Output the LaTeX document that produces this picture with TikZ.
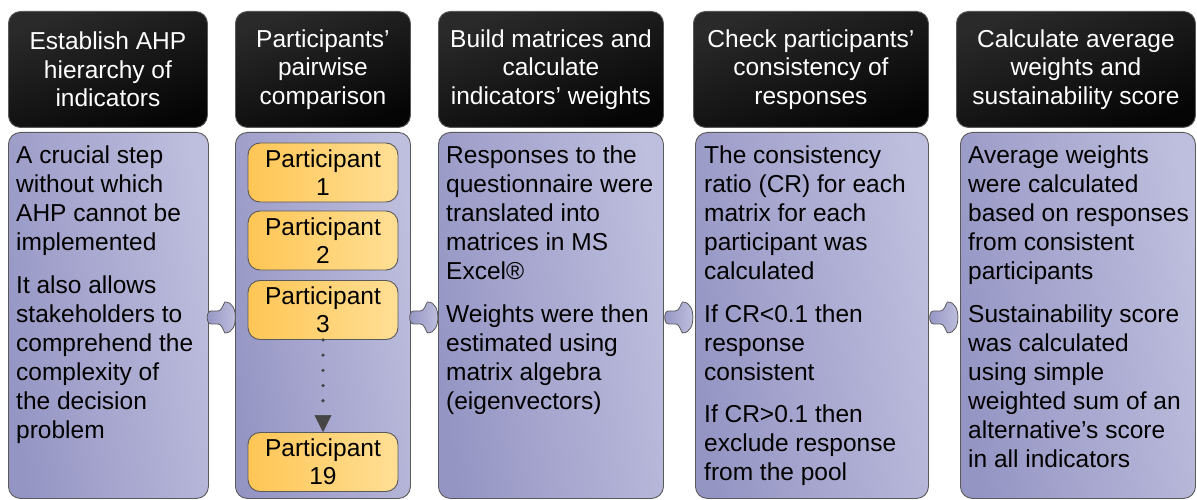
\documentclass[tikz,border=0pt]{standalone}
\usepackage{fontspec}
\setmainfont{Liberation Sans}
\usetikzlibrary{arrows.meta,calc}
\definecolor{bord}{HTML}{5A5A5A}
\definecolor{hdrA}{HTML}{2A2A2A}
\definecolor{hdrB}{HTML}{050505}
\definecolor{lavA}{HTML}{9595C4}
\definecolor{lavB}{HTML}{BEBEDE}
\definecolor{orgA}{HTML}{FFC655}
\definecolor{orgB}{HTML}{FFDF95}
\definecolor{dotc}{HTML}{454545}
\newcommand\firststrut{\rule{0pt}{18pt}}
\newcommand\flowarrow[2]{%
  \begin{scope}[shift={($(#1.east)!0.5!(#2.west)+(-1,2)$)}]
    \draw[connshape] (-10,-6.5) -- (-3,-6.5) .. controls (1,-6.5) and (2,-13) .. (4,-15.5)
      .. controls (12,-15.5) and (14.5,-7) .. (14.5,0) .. controls (14.5,7) and (12,15.5) .. (4,15.5)
      .. controls (2,13) and (1,6.5) .. (-3,6.5) -- (-10,6.5)
      .. controls (-15,6.5) and (-15,-6.5) .. (-10,-6.5) -- cycle;
  \end{scope}}
\begin{document}
\begin{tikzpicture}[x=1pt,y=-1pt,
  hdr/.style={draw=bord, line width=0.9pt, rounded corners=12pt, top color=hdrA, bottom color=hdrB,
    shading angle=20, text=white, align=center, inner sep=0pt,
    font=\fontsize{24.5}{28.5}\selectfont},
  body/.style={draw=bord, line width=0.9pt, rounded corners=12pt, left color=lavA, right color=lavB,
    shading angle=100, inner sep=0pt},
  btxt/.style={anchor=north west, align=left, inner sep=0pt, text=black,
    font=\fontsize{24.5}{29}\selectfont},
  part/.style={draw=bord, line width=0.9pt, rounded corners=12pt, left color=orgA, right color=orgB,
    minimum width=150pt, minimum height=59pt, inner sep=0pt, align=center,
    font=\fontsize{24.5}{28}\selectfont},
  connshape/.style={draw=bord, line width=0.8pt, left color=lavA, right color=lavB},
  dotline/.style={draw=dotc, line width=3.6pt, dash pattern=on 0pt off 15.2pt, line cap=round,
    -{Triangle[length=17pt,width=17pt,fill=dotc,line width=0.5pt]}}]
\useasboundingbox (0,0) rectangle (1197,500);

% headers
\node[hdr, anchor=north west, minimum width=199pt, minimum height=116pt] (h1) at (8,11)
  {Establish AHP\\hierarchy of\\indicators};
\node[hdr, anchor=north west, minimum width=175pt, minimum height=116pt] (h2) at (235,11)
  {Participants’\\pairwise\\comparison};
\node[hdr, anchor=north west, minimum width=225pt, minimum height=116pt] (h3) at (438,11)
  {Build matrices and\\calculate\\indicators’ weights};
\node[hdr, anchor=north west, minimum width=235pt, minimum height=116pt] (h4) at (693,11)
  {Check participants’\\consistency of\\responses};
\node[hdr, anchor=north west, minimum width=239pt, minimum height=116pt] (h5) at (956,11)
  {Calculate average\\weights and\\sustainability score};

% bodies
\node[body, anchor=north west, minimum width=200pt, minimum height=366pt] (b1) at (8,132) {};
\node[body, anchor=north west, minimum width=175pt, minimum height=366pt] (b2) at (235,132) {};
\node[body, anchor=north west, minimum width=225pt, minimum height=366pt] (b3) at (438,132) {};
\node[body, anchor=north west, minimum width=233pt, minimum height=366pt] (b4) at (695,132) {};
\node[body, anchor=north west, minimum width=235pt, minimum height=366pt] (b5) at (960,132) {};

% body texts
\node[btxt] (t1) at ($(b1.north west)+(8,13.5)$)
  {\firststrut A crucial step\\without which\\AHP cannot be\\implemented\\[13.5pt]It also allows\\stakeholders to\\comprehend the\\complexity of\\the decision\\problem};
\node[btxt] (t3) at ($(b3.north west)+(8,13.5)$)
  {\firststrut Responses to the\\questionnaire were\\translated into\\matrices in MS\\Excel®\\[13.5pt]Weights were then\\estimated using\\matrix algebra\\(eigenvectors)};
\node[btxt] (t4) at ($(b4.north west)+(9,13.5)$)
  {\firststrut The consistency\\ratio (CR) for each\\matrix for each\\participant was\\calculated\\[13.5pt]If CR<0.1 then\\response\\consistent\\[13.5pt]If CR>0.1 then\\exclude response\\from the pool};
\node[btxt] (t5) at ($(b5.north west)+(8,13.5)$)
  {\firststrut Average weights\\were calculated\\based on responses\\from consistent\\participants\\[13.5pt]Sustainability score\\was calculated\\using simple\\weighted sum of an\\alternative’s score\\in all indicators};

% participants
\node[part] (p1) at (323,172.5) {Participant\\1};
\node[part] (p2) at (323,240.5) {Participant\\2};
\node[part] (p3) at (323,310) {Participant\\3};
\node[part] (p19) at (323,462) {Participant\\19};
\draw[dotline] (p3.south) -- (p19.north);

% connectors
\flowarrow{b1}{b2}
\flowarrow{b2}{b3}
\flowarrow{b3}{b4}
\flowarrow{b4}{b5}
\end{tikzpicture}
\end{document}
